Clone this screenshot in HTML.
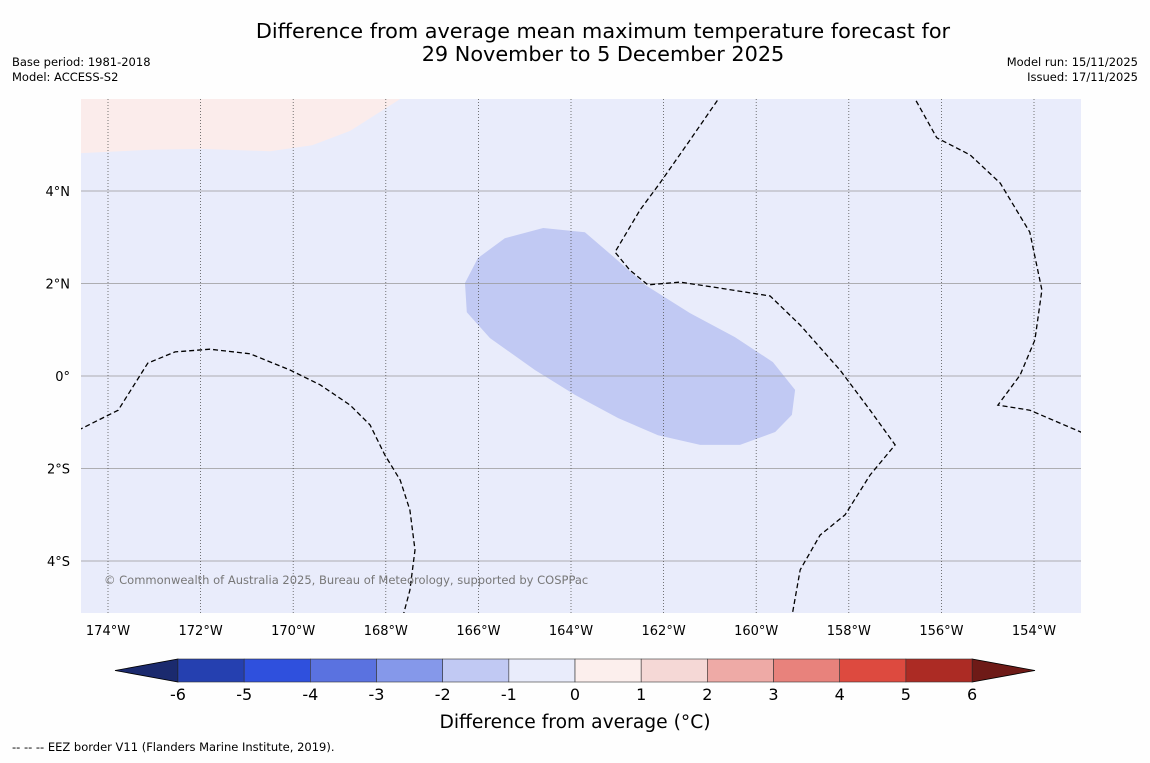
<!DOCTYPE html>
<html><head><meta charset="utf-8"><style>
body{margin:0;background:#fefefe;width:1150px;height:758px;overflow:hidden;font-family:"Liberation Sans","DejaVu Sans",sans-serif}
svg text{font-family:"DejaVu Sans","Liberation Sans",sans-serif}
</style></head><body>
<svg id="s" width="1150" height="758" xmlns="http://www.w3.org/2000/svg">
<text x="603" y="38" text-anchor="middle" font-size="20.8" fill="#000">Difference from average mean maximum temperature forecast for</text>
<text x="603" y="61" text-anchor="middle" font-size="20.8" fill="#000">29 November to 5 December 2025</text>
<text x="12" y="66" font-size="11.5">Base period: 1981-2018</text>
<text x="12" y="81" font-size="11.5">Model: ACCESS-S2</text>
<text x="1138" y="66" font-size="11.5" text-anchor="end">Model run: 15/11/2025</text>
<text x="1138" y="81" font-size="11.5" text-anchor="end">Issued: 17/11/2025</text>
<defs><clipPath id="cp"><rect x="81" y="99" width="1000" height="514"/></clipPath></defs>
<rect x="81" y="99" width="1000" height="514" fill="#e9ecfb"/>
<g id="map" clip-path="url(#cp)"></g>
<g id="axes"></g>
<text x="104" y="584" font-size="11.5" fill="#777">© Commonwealth of Australia 2025, Bureau of Meteorology, supported by COSPPac</text>
<g id="cbar"></g>
<text x="575" y="728" text-anchor="middle" font-size="18.7">Difference from average (°C)</text>
<text x="12" y="751" font-size="11.5">--  --  -- EEZ border V11 (Flanders Marine Institute, 2019).</text>
</svg>
<script>
const lonTicks=[-174,-172,-170,-168,-166,-164,-162,-160,-158,-156,-154];
const latTicks=[4,2,0,-2,-4];
const latLabels=["4°N","2°N","0°","2°S","4°S"];
const coolLon=[-166.01,-165.43,-164.60,-163.70,-163.05,-162.40,-161.43,-160.46,-159.64,-159.16,-159.23,-159.59,-160.35,-161.21,-162.12,-162.98,-163.91,-164.78,-165.75,-166.25,-166.29];
const coolLat=[2.55,2.98,3.20,3.11,2.55,1.97,1.36,0.84,0.30,-0.30,-0.84,-1.21,-1.49,-1.49,-1.28,-0.91,-0.41,0.13,0.82,1.38,2.01];
const warmLon=[-174.8,-174.58,-173.09,-172.01,-170.50,-169.59,-168.77,-167.69,-167.4,-174.8];
const warmLat=[6.2,4.82,4.89,4.91,4.86,4.99,5.30,5.99,6.2,6.2];
const eez1Lon=[-174.8,-173.78,-173.14,-172.55,-171.80,-170.93,-170.07,-169.42,-168.77,-168.34,-168.02,-167.69,-167.48,-167.37,-167.48,-167.63];
const eez1Lat=[-1.25,-0.74,0.28,0.52,0.58,0.48,0.13,-0.19,-0.63,-1.06,-1.71,-2.25,-2.90,-3.76,-4.63,-5.2];
const eez2Lon=[-160.74,-161.43,-162.08,-162.51,-163.05,-162.73,-162.34,-161.65,-160.78,-159.70,-159.05,-158.19,-157.54,-157.00,-157.54,-158.08,-158.62,-159.05,-159.23];
const eez2Lat=[6.1,5.10,4.17,3.59,2.68,2.29,1.97,2.03,1.90,1.73,1.10,0.13,-0.74,-1.49,-2.14,-3.00,-3.44,-4.19,-5.2];
const eez3Lon=[-156.63,-156.10,-155.38,-154.73,-154.09,-153.83,-153.98,-154.30,-154.78,-154.09,-152.9];
const eez3Lat=[6.1,5.15,4.78,4.17,3.11,1.86,0.78,0.02,-0.63,-0.74,-1.25];
const levels=[-6,-5,-4,-3,-2,-1,0,1,2,3,4,5,6];
const levelColors=["#2540b0","#2f50dd","#5a72e0","#8598ea","#c1c9f3","#e9ecfb","#fcefed","#f5d8d6","#eeaaa6","#e8827c","#dd4a3f","#ac2b24"];

const NS="http://www.w3.org/2000/svg";
const X=lon=>108+(lon+174)*46.3;
const Y=lat=>376-lat*46.25;
function mk(tag,attrs,parent){const e=document.createElementNS(NS,tag);for(const k in attrs)e.setAttribute(k,attrs[k]);parent.appendChild(e);return e;}
const map=document.getElementById('map'),axes=document.getElementById('axes'),cb=document.getElementById('cbar');
function pts(lo,la){return lo.map((v,i)=>X(v).toFixed(1)+','+Y(la[i]).toFixed(1)).join(' ');}
let w=mk('polygon',{points:pts(warmLon,warmLat),fill:'#fbeceb'},map);


let c=mk('polygon',{points:pts(coolLon,coolLat),fill:'#c1c9f3'},map);


latTicks.forEach((v,i)=>{
 let l=mk('line',{x1:81,x2:1081,y1:Y(v),y2:Y(v),stroke:'#999','stroke-width':0.8},map);
 
 
 let t=mk('text',{x:70,y:Y(v)+5,'text-anchor':'end','font-size':13},axes);t.textContent=latLabels[i];
 
 
});
lonTicks.forEach(v=>{
 let l=mk('line',{x1:X(v),x2:X(v),y1:99,y2:613,stroke:'#555','stroke-width':0.8,'stroke-dasharray':'1,2'},map);
 
 
 let t=mk('text',{x:X(v),y:635,'text-anchor':'middle','font-size':13},axes);t.textContent=Math.abs(v)+'°W';
 
 
});
[[eez1Lon,eez1Lat],[eez2Lon,eez2Lat],[eez3Lon,eez3Lat]].forEach(a=>{
 let p=mk('polyline',{points:pts(a[0],a[1]),fill:'none',stroke:'#000','stroke-width':1.3,'stroke-dasharray':'5,3'},map);
 
 
});
const cx=v=>178+(v+6)*66.17;
const y0=659,y1=682;
let lt=mk('polygon',{points:`115,670.5 ${cx(-6)},${y0} ${cx(-6)},${y1}`,fill:'#1b2a6e',stroke:'#000','stroke-width':0.8},cb);


let rt=mk('polygon',{points:`1035,670.5 ${cx(6)},${y0} ${cx(6)},${y1}`,fill:'#6e1a17',stroke:'#000','stroke-width':0.8},cb);


levelColors.forEach((col,i)=>{
 let r=mk('rect',{x:cx(levels[i]),y:y0,width:cx(levels[i+1])-cx(levels[i]),height:y1-y0,fill:col,stroke:'#333','stroke-width':0.6},cb);
 
 
});
levels.forEach(v=>{
 let t=mk('text',{x:cx(v),y:700,'text-anchor':'middle','font-size':16},cb);t.textContent=v;
 
 
});
</script>
</body></html>
